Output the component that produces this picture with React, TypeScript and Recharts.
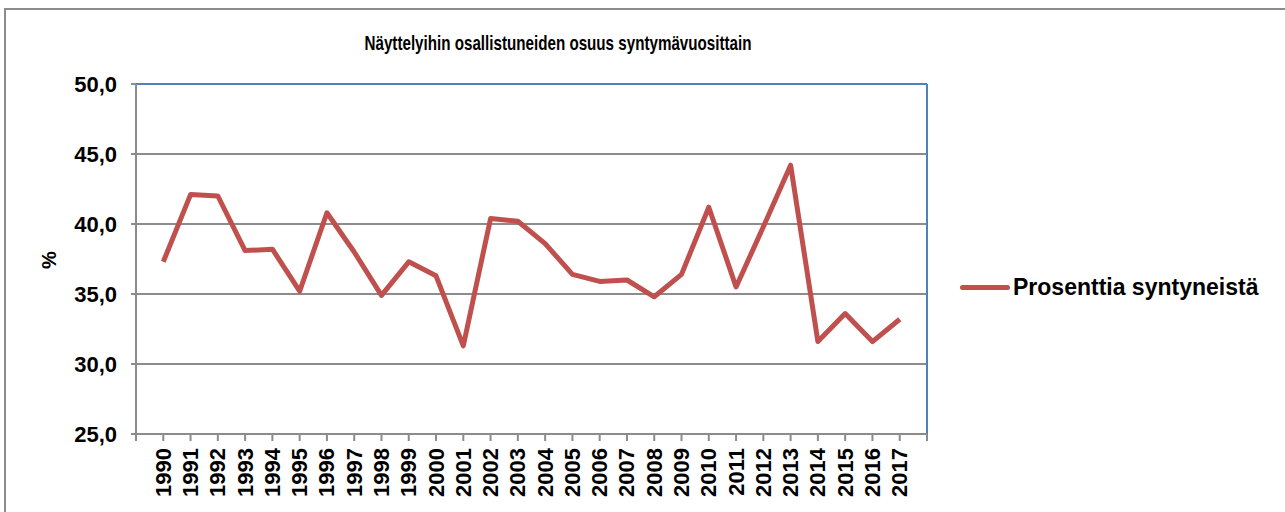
import React from 'react';
import {
  LineChart,
  Line,
  XAxis,
  YAxis,
  CartesianGrid,
  ReferenceLine,
} from 'recharts';

const years = [
  1990, 1991, 1992, 1993, 1994, 1995, 1996, 1997, 1998, 1999, 2000, 2001, 2002, 2003,
  2004, 2005, 2006, 2007, 2008, 2009, 2010, 2011, 2012, 2013, 2014, 2015, 2016, 2017,
];
const shares = [
  37.3, 42.1, 42.0, 38.1, 38.2, 35.2, 40.8, 38.0, 34.9, 37.3, 36.3, 31.3, 40.4, 40.2,
  38.6, 36.4, 35.9, 36.0, 34.8, 36.4, 41.2, 35.5, 39.8, 44.2, 31.6, 33.6, 31.6, 33.2,
];
const yTicks = [25, 30, 35, 40, 45, 50];
// one empty slot either side, Excel style "on tick marks"
const xTicks = [1989, ...years, 2018];

const title = 'Näyttelyihin osallistuneiden osuus syntymävuosittain';
const seriesName = 'Prosenttia syntyneistä';
const yLabel = '%';

const RED = '#C0504D';
const GRAY = '#8c8c8c';
const BLUE = '#4F81BD';
const FONT = '"Liberation Sans", Arial, sans-serif';

const data = years.map((y, i) => ({ year: y, value: shares[i] }));

function YearTick({ x, y, payload }: any) {
  if (payload.value < years[0] || payload.value > years[years.length - 1]) return null;
  return (
    <text
      x={x}
      y={y}
      transform={`rotate(-90, ${x}, ${y})`}
      textAnchor="end"
      dominantBaseline="central"
      fontFamily={FONT}
      fontWeight="bold"
      fontSize={22}
      fill="#000"
    >
      {payload.value}
    </text>
  );
}

export default function App() {
  return (
    <div style={{ position: 'absolute', left: 0, top: 0, width: 1285, height: 512, background: '#fff' }}>
      <LineChart
        width={1285}
        height={512}
        data={data}
        margin={{ top: 84, right: 358, bottom: 0, left: 0 }}
      >
        <CartesianGrid vertical={false} stroke={GRAY} strokeWidth={2} />
        <XAxis
          dataKey="year"
          type="number"
          domain={[1989, 2018]}
          ticks={xTicks}
          interval={0}
          height={78}
          tickSize={7}
          tickMargin={7}
          axisLine={{ stroke: GRAY, strokeWidth: 2 }}
          tickLine={{ stroke: GRAY, strokeWidth: 2 }}
          tick={<YearTick />}
        />
        <YAxis
          domain={[25, 50]}
          ticks={yTicks}
          width={136}
          tickSize={5}
          tickMargin={14}
          axisLine={{ stroke: GRAY, strokeWidth: 2 }}
          tickLine={{ stroke: GRAY, strokeWidth: 2 }}
          tickFormatter={(v: number) => v.toFixed(1).replace('.', ',')}
          tick={{ fontFamily: FONT, fontWeight: 'bold', fontSize: 22, fill: '#000' }}
        />
        <ReferenceLine y={50} stroke={BLUE} strokeWidth={2} />
        <ReferenceLine x={2018} stroke={BLUE} strokeWidth={2} />
        <Line
          type="linear"
          dataKey="value"
          name={seriesName}
          stroke={RED}
          strokeWidth={5}
          strokeLinejoin="round"
          dot={false}
          activeDot={false}
          isAnimationActive={false}
        />
      </LineChart>

      <svg
        width={1285}
        height={512}
        style={{ position: 'absolute', left: 0, top: 0, pointerEvents: 'none' }}
      >
        <line x1={4} y1={9} x2={1285} y2={9} stroke={GRAY} strokeWidth={2} />
        <line x1={5} y1={8} x2={5} y2={512} stroke={GRAY} strokeWidth={2} />
        <text
          x={558}
          y={50}
          textAnchor="middle"
          fontFamily='"Liberation Sans Narrow", "Arial Narrow", "Liberation Sans", sans-serif'
          fontWeight="bold"
          fontSize={21}
          textLength={387}
          lengthAdjust="spacingAndGlyphs"
          fill="#000"
        >
          {title}
        </text>
        <text
          x={49}
          y={260}
          transform="rotate(-90, 49, 260)"
          textAnchor="middle"
          dominantBaseline="central"
          fontFamily={FONT}
          fontWeight="bold"
          fontSize={20}
          fill="#000"
        >
          {yLabel}
        </text>
      </svg>

      {/* Legend */}
      <div
        style={{
          position: 'absolute',
          left: 960,
          top: 274,
          height: 26,
          display: 'flex',
          alignItems: 'center',
          fontFamily: FONT,
          fontWeight: 'bold',
          fontSize: 23,
          color: '#000',
          whiteSpace: 'nowrap',
        }}
      >
        <span
          style={{
            display: 'inline-block',
            width: 50,
            height: 5,
            borderRadius: 3,
            background: RED,
            marginRight: 3,
          }}
        />
        <span>{seriesName}</span>
      </div>
    </div>
  );
}
